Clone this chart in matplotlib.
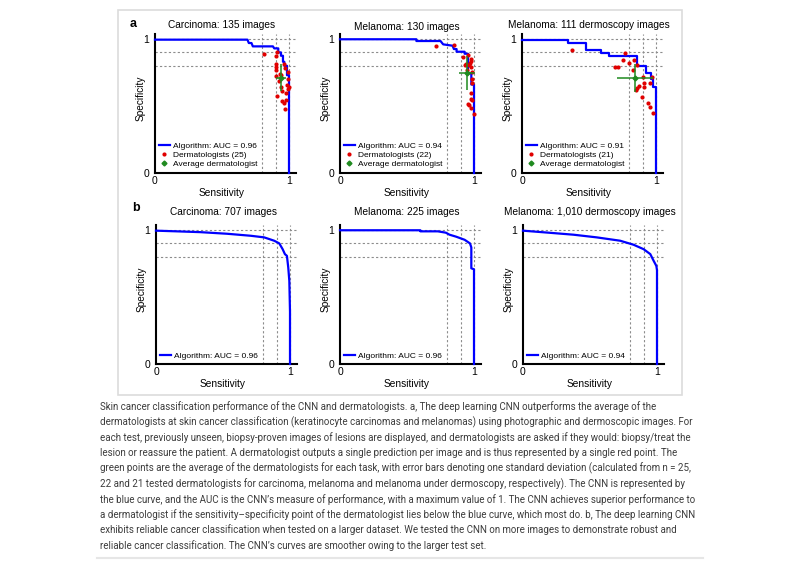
import matplotlib
matplotlib.use('Agg')
import matplotlib.pyplot as plt
import matplotlib.transforms as mtransforms
from matplotlib.lines import Line2D
from matplotlib.patches import Rectangle

plt.rcParams['font.family'] = ['Liberation Sans', 'DejaVu Sans']

# ---- data ----
titles_a = ['Carcinoma: 135 images', 'Melanoma: 130 images', 'Melanoma: 111 dermoscopy images']
titles_b = ['Carcinoma: 707 images', 'Melanoma: 225 images', 'Melanoma: 1,010 dermoscopy images']
auc_a = ['0.96', '0.94', '0.91']
auc_b = ['0.96', '0.96', '0.94']
n_derm = [25, 22, 21]

a1_sens = [0, 0.69, 0.70, 0.72, 0.73, 0.88, 0.89, 0.92, 0.92, 0.94, 0.94, 0.955, 0.955, 0.965, 0.965, 0.985, 0.985, 1.0, 1.0]
a1_spec = [0.995, 0.995, 0.97, 0.97, 0.945, 0.945, 0.93, 0.93, 0.90, 0.90, 0.875, 0.875, 0.83, 0.83, 0.80, 0.80, 0.73, 0.73, 0.0]
a2_sens = [0, 0.57, 0.57, 0.75, 0.77, 0.84, 0.85, 0.87, 0.87, 0.93, 0.93, 0.955, 0.955, 0.98, 0.98, 1.0, 1.0]
a2_spec = [0.998, 0.998, 0.985, 0.985, 0.96, 0.95, 0.925, 0.925, 0.905, 0.905, 0.89, 0.89, 0.745, 0.745, 0.66, 0.66, 0.0]
a3_sens = [0, 0.34, 0.34, 0.48, 0.48, 0.59, 0.59, 0.65, 0.65, 0.86, 0.86, 0.925, 0.925, 0.96, 0.96, 0.975, 0.975, 1.0, 1.0]
a3_spec = [0.995, 0.995, 0.97, 0.97, 0.92, 0.92, 0.895, 0.895, 0.87, 0.87, 0.795, 0.795, 0.745, 0.745, 0.70, 0.70, 0.645, 0.645, 0.0]

d1_sens = [0.81, 0.90, 0.91, 0.90, 0.90, 0.90, 0.93, 0.96, 0.99, 1.00, 0.94, 0.95, 0.98, 0.99, 0.91,
           0.95, 0.96, 0.98, 0.97, 0.94, 0.90, 0.99, 0.97, 0.925, 0.985]
d1_spec = [0.89, 0.875, 0.905, 0.81, 0.79, 0.77, 0.74, 0.81, 0.75, 0.64, 0.64, 0.61, 0.60, 0.625, 0.575,
           0.54, 0.525, 0.545, 0.475, 0.73, 0.725, 0.70, 0.78, 0.69, 0.66]
d2_sens = [0.72, 0.85, 0.92, 0.955, 0.98, 0.98, 0.937, 0.96, 0.98, 0.95, 0.987, 0.985, 0.985, 0.98, 0.98,
           0.96, 0.98, 1.0, 0.935, 0.955, 0.987, 0.97]
d2_spec = [0.948, 0.955, 0.863, 0.88, 0.849, 0.834, 0.813, 0.806, 0.793, 0.769, 0.756, 0.70, 0.674, 0.595, 0.55,
           0.507, 0.483, 0.44, 0.806, 0.513, 0.545, 0.82]
d3_sens = [0.373, 0.771, 0.754, 0.838, 0.796, 0.696, 0.714, 0.858, 0.825, 0.903, 0.970, 0.858, 0.908, 0.908,
           0.952, 0.87, 0.896, 0.937, 0.952, 0.978, 0.853]
d3_spec = [0.918, 0.893, 0.843, 0.843, 0.818, 0.793, 0.793, 0.806, 0.769, 0.719, 0.714, 0.632, 0.674, 0.644,
           0.669, 0.649, 0.569, 0.52, 0.49, 0.445, 0.619]

avg_sens = [0.94, 0.95, 0.845]
avg_spec = [0.71, 0.745, 0.71]
sd_sens = [0.04, 0.06, 0.135]
sd_spec = [0.10, 0.125, 0.105]

b1_sens = [0, 0.155, 0.33, 0.53, 0.707, 0.807, 0.882, 0.92, 0.945, 0.962, 0.977, 0.987, 0.995, 1.0, 1.0]
b1_spec = [0.995, 0.99, 0.984, 0.972, 0.957, 0.945, 0.92, 0.90, 0.857, 0.82, 0.807, 0.72, 0.62, 0.39, 0.0]
b2_sens = [0, 0.60, 0.60, 0.73, 0.79, 0.817, 0.867, 0.93, 0.97, 0.98, 0.98, 1.0, 1.0]
b2_spec = [0.998, 0.998, 0.99, 0.99, 0.98, 0.965, 0.95, 0.927, 0.90, 0.87, 0.714, 0.707, 0.0]
b3_sens = [0, 0.19, 0.376, 0.55, 0.725, 0.825, 0.90, 0.95, 0.975, 0.995, 1.0, 1.0]
b3_spec = [0.995, 0.98, 0.965, 0.945, 0.92, 0.89, 0.857, 0.82, 0.77, 0.732, 0.70, 0.0]

ref_lines = [0.8, 0.9, 1.0]

caption = [
    "Skin cancer classification performance of the CNN and dermatologists. a, The deep learning CNN outperforms the average of the",
    "dermatologists at skin cancer classification (keratinocyte carcinomas and melanomas) using photographic and dermoscopic images. For",
    "each test, previously unseen, biopsy-proven images of lesions are displayed, and dermatologists are asked if they would: biopsy/treat the",
    "lesion or reassure the patient. A dermatologist outputs a single prediction per image and is thus represented by a single red point. The",
    "green points are the average of the dermatologists for each task, with error bars denoting one standard deviation (calculated from n = 25,",
    "22 and 21 tested dermatologists for carcinoma, melanoma and melanoma under dermoscopy, respectively). The CNN is represented by",
    "the blue curve, and the AUC is the CNN\u2019s measure of performance, with a maximum value of 1. The CNN achieves superior performance to",
    "a dermatologist if the sensitivity\u2013specificity point of the dermatologist lies below the blue curve, which most do. b, The deep learning CNN",
    "exhibits reliable cancer classification when tested on a larger dataset. We tested the CNN on more images to demonstrate robust and",
    "reliable cancer classification. The CNN\u2019s curves are smoother owing to the larger test set.",
]

# ---- layout (pixels on an 800x566 canvas) ----
W, H = 800, 566
fig = plt.figure(figsize=(8, 5.66), dpi=100)
fig.patch.set_facecolor('white')

def fx(px):
    return px / W

def fy(py):
    return 1 - py / H

UNIT = 134.0
XMAX, YMAX = 1.05, 1.035
col_x0 = [155, 340, 522]
row_y0 = [173, 364]

BLUE = '#0000ff'
RED = '#e00000'
GREEN = '#1f8a1f'
GRID = '#8c8c8c'

fig.patches.append(Rectangle((fx(118), fy(395)), (682 - 118) / W, (395 - 10) / H,
                             transform=fig.transFigure, fill=False, edgecolor='#dcdcdc', lw=1.2))


def make_axes(x0, y0):
    ax = fig.add_axes([fx(x0), fy(y0), XMAX * UNIT / W, YMAX * UNIT / H])
    ax.set_xlim(0, XMAX)
    ax.set_ylim(0, YMAX)
    for v in ref_lines:
        ax.axvline(v, color=GRID, ls=(0, (2, 2)), lw=0.8, zorder=1)
        ax.axhline(v, color=GRID, ls=(0, (2, 2)), lw=0.8, zorder=1)
    for s in ['top', 'right']:
        ax.spines[s].set_visible(False)
    for s in ['left', 'bottom']:
        ax.spines[s].set_linewidth(1.5)
    ax.set_xticks([0, 1])
    ax.set_yticks([0, 1])
    ax.set_xticklabels(['0', '1'])
    ax.set_yticklabels(['0', '1'])
    ax.tick_params(axis='x', length=0, pad=2, labelsize=7.5)
    ax.tick_params(axis='y', length=0, pad=4, labelsize=7.5)
    ax.set_xlabel('Sensitivity', fontsize=7.3)
    ax.set_ylabel('Specificity', fontsize=7.3)
    ax.xaxis.set_label_coords(0.47, -0.105)
    ax.yaxis.set_label_coords(-0.07, 0.54)
    ax.patch.set_alpha(0)
    return ax


def add_title(ax, text, y_px, y0):
    trans = mtransforms.blended_transform_factory(ax.transData, ax.transAxes)
    ax.text(0.5, (y0 - y_px) / (YMAX * UNIT), text, transform=trans, ha='center', va='center', fontsize=7.3)


curves_a = [(a1_sens, a1_spec), (a2_sens, a2_spec), (a3_sens, a3_spec)]
derms = [(d1_sens, d1_spec), (d2_sens, d2_spec), (d3_sens, d3_spec)]
title_y_a = [25, 26.5, 24.5]
for i in range(3):
    ax = make_axes(col_x0[i], row_y0[0])
    add_title(ax, titles_a[i], title_y_a[i], row_y0[0])
    ax.plot(curves_a[i][0], curves_a[i][1], color=BLUE, lw=1.6, zorder=3, clip_on=False)
    ax.plot(derms[i][0], derms[i][1], 'o', color=RED, ms=3, mec='none', zorder=4, clip_on=False)
    ax.errorbar(avg_sens[i], avg_spec[i], xerr=sd_sens[i], yerr=sd_spec[i], fmt='D', color=GREEN,
                ms=2.5, lw=1.1, capsize=0, zorder=5)
    handles = [Line2D([], [], color=BLUE, lw=1.6),
               Line2D([], [], ls='none', marker='o', color=RED, ms=3, mec='none'),
               Line2D([], [], ls='none', marker='D', color=GREEN, ms=2.5)]
    labels = ['Algorithm: AUC = ' + auc_a[i], 'Dermatologists (%d)' % n_derm[i], 'Average dermatologist']
    ax.legend(handles, labels, loc='lower left', bbox_to_anchor=(0.02, 0.03), borderaxespad=0,
              borderpad=0.1, frameon=False, fontsize=6, handlelength=1.4, handletextpad=0.35,
              labelspacing=0.12)

curves_b = [(b1_sens, b1_spec), (b2_sens, b2_spec), (b3_sens, b3_spec)]
col_x0_b = [156, 340, 523]
for i in range(3):
    ax = make_axes(col_x0_b[i], row_y0[1])
    add_title(ax, titles_b[i], 212, row_y0[1])
    ax.plot(curves_b[i][0], curves_b[i][1], color=BLUE, lw=1.6, zorder=3,
            label='Algorithm: AUC = ' + auc_b[i], clip_on=False)
    ax.legend(loc='lower left', bbox_to_anchor=(0.02, 0.02), borderaxespad=0, borderpad=0.1,
              frameon=False, fontsize=6, handlelength=1.4, handletextpad=0.35)

fig.text(fx(133), fy(24), 'a', fontsize=9, fontweight='bold', ha='center', va='center')
fig.text(fx(136), fy(208), 'b', fontsize=9, fontweight='bold', ha='center', va='center')

# caption under the figure box
for k, line in enumerate(caption):
    fig.text(fx(100), fy(407 + k * 15.35), line, fontsize=7.0, family=['Roboto', 'DejaVu Sans'],
             color='#3c3c3c', ha='left', va='center')

fig.add_artist(Line2D([fx(97), fx(703)], [fy(558), fy(558)], color='#e6e6e6', lw=1.5))

fig.savefig('out.png', dpi=100, facecolor='white')
